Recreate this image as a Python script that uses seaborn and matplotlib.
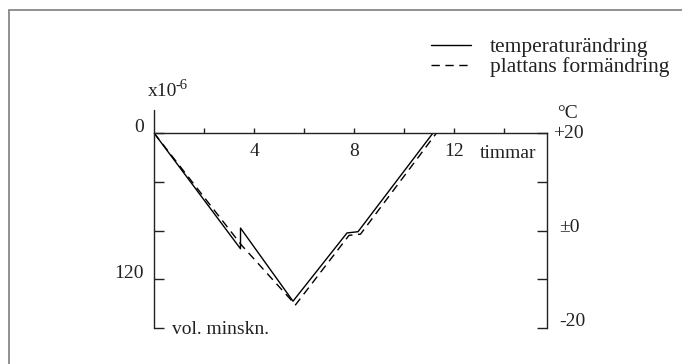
import numpy as np
import pandas as pd
import matplotlib.pyplot as plt
import seaborn as sns

# hours and volume change (x10^-6, positive = shrinking, drawn downward)
temp_hours = [0, 3.46, 3.46, 5.56, 7.72, 8.16, 11.16]
temp_vals = [0, 95, 78, 138, 82, 81, 0]
plate_hours = [0, 3.5, 5.66, 7.8, 8.26, 11.3]
plate_vals = [0, 92, 141, 84, 83, 0]

left_ticks = [0, 40, 80, 120, 160]
right_ticks = [20, 10, 0, -10, -20]
hour_ticks = [2, 4, 6, 8, 10, 12, 14]
hour_labels = ["4", "8", "12"]

sns.set_style("white")
plt.rcParams['font.family'] = ['Liberation Serif', 'DejaVu Serif']
plt.rcParams['font.size'] = 14
ink = "#222222"

W, H = 682, 364
fig = plt.figure(figsize=(6.82, 3.64), dpi=100)
ax = fig.add_axes([154/W, (H-328)/H, (547-154)/W, (328-133)/H])


def px_text(x, y, s, ha="left", va="center", **kw):
    # place text at a pixel position of the picture
    fig.text(x/W, 1 - y/H, s, ha=ha, va=va, color=ink, **kw)


df_t = pd.DataFrame({"h": temp_hours, "v": temp_vals})
df_p = pd.DataFrame({"h": plate_hours, "v": plate_vals})
sns.lineplot(data=df_t, x="h", y="v", ax=ax, color="black", lw=1.0, sort=False,
             estimator=None, label="temperaturändring")
sns.lineplot(data=df_p, x="h", y="v", ax=ax, color="black", lw=1.0, sort=False,
             estimator=None, linestyle=(0, (6, 4)), label="plattans formändring")

ax.set_xlim(0, (547-154)/25)
ax.set_ylim(160, 0)
ax.set_xlabel("")
ax.set_ylabel("")

ax.spines["bottom"].set_visible(False)
for s in ["left", "top", "right"]:
    ax.spines[s].set_color(ink)
    ax.spines[s].set_linewidth(1.0)

# top axis ticks point up, labels written below the line
ax.xaxis.tick_top()
ax.set_xticks(hour_ticks)
ax.tick_params(axis="x", direction="out", length=3.5, width=1.0, color=ink,
               labeltop=False, labelbottom=False, top=True, bottom=False)
for h, lab in zip([4, 8, 12], hour_labels):
    ax.text(h, 15, lab, ha="center", va="center", color=ink)
px_text(480, 153, "timmar")

ax.set_yticks(left_ticks)
ax.set_yticklabels([])
ax.tick_params(axis="y", direction="in", length=7, width=1.0, color=ink)
ax.plot([0, 0], [-19, 0], color=ink, lw=1.0, clip_on=False)
px_text(144, 127, "0", ha="right")
px_text(144, 273, "120", ha="right")
px_text(148, 96, "x10", va="baseline")
px_text(176, 89, "-6", va="baseline", fontsize=10.5)
px_text(172, 329, "vol. minskn.")

ax2 = ax.twinx()
ax2.set_ylim(-20, 20)
ax2.set_yticks(right_ticks)
ax2.set_yticklabels([])
for s in ["left", "top", "bottom", "right"]:
    ax2.spines[s].set_visible(False)
ax2.tick_params(axis="y", direction="in", length=7.5, width=1.0, color=ink)
px_text(553, 134, "+20")
px_text(559, 228, "\u00b10")
px_text(559, 321, "-20")
px_text(557, 113, "\u00b0C")

ax.legend(loc="upper left", bbox_to_anchor=(431/W, 1-37/H), bbox_transform=fig.transFigure,
          frameon=False, handlelength=1.85, handletextpad=0.9, labelspacing=0.0,
          borderaxespad=0, borderpad=0, fontsize=15.5)
for t in ax.get_legend().get_texts():
    t.set_color(ink)

# frame lines at top and left of the figure
fig.add_artist(plt.Line2D([9/W, 1], [1-10/H, 1-10/H], color="#888888", lw=1.3))
fig.add_artist(plt.Line2D([9/W, 9/W], [0, 1-10/H], color="#888888", lw=1.3))

fig.savefig("out.png", dpi=100)
